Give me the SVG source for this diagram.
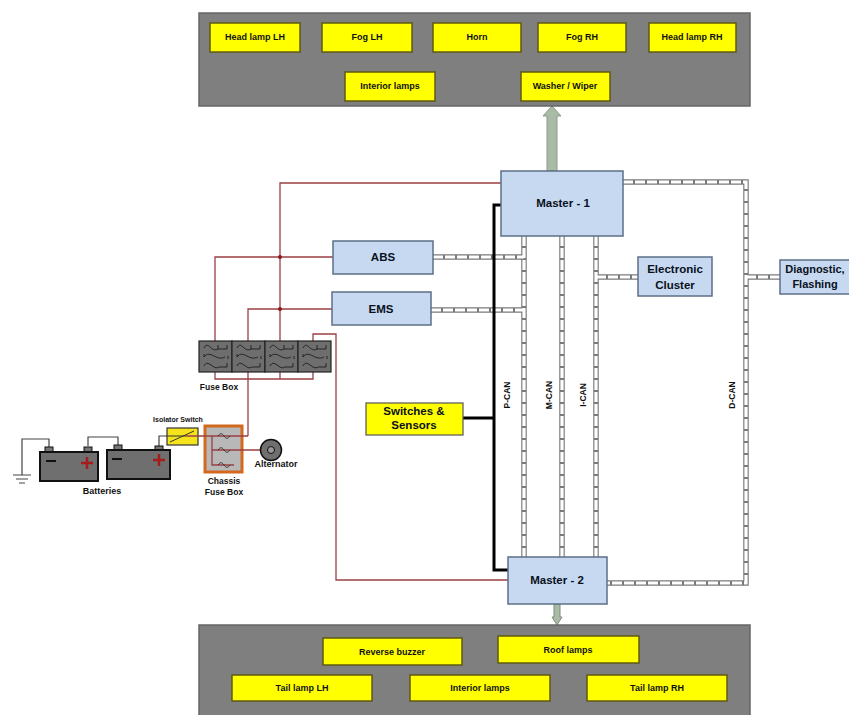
<svg xmlns="http://www.w3.org/2000/svg" width="849" height="715" viewBox="0 0 849 715">
<style>
text{font-family:"Liberation Sans",Arial,sans-serif;font-weight:bold;fill:#111;text-anchor:middle}
.panel{fill:#7f7f7f;stroke:#666;stroke-width:1.5}
.y{fill:#ffff00;stroke:#5f5a10;stroke-width:1.5}
.yt{font-size:9px}
.b{fill:#c6d9f1;stroke:#5d6f86;stroke-width:1.5}
.bt{font-size:11.5px;fill:#0a1020}
.lbl{font-size:8.5px}
.red{fill:none;stroke:#9a3f44;stroke-width:1.3}
.blk{fill:none;stroke:#000;stroke-width:3}
.w{fill:none;stroke:#444;stroke-width:1.2}
.t1{fill:none;stroke:#7a7a7a;stroke-width:5.5}
.t2{fill:none;stroke:#fff;stroke-width:3.2;stroke-dasharray:10 2}
.cell{fill:#6e6e6e;stroke:#222;stroke-width:1.2}
.fg{fill:none;stroke:#111;stroke-width:.8}
.bat{fill:#6f6f6f;stroke:#111;stroke-width:2}
.term{fill:#777;stroke:#111;stroke-width:1}
</style>
<defs>
<g id="fuse">
<path class="fg" d="M3 6 C5 2 7 3 9 5 S14 9 17 7 M17 3v4h9v-4"/>
<path class="fg" d="M3 15 C6 11 9 12 13 14 S20 17 24 15 M3 12v3M27 14v3"/>
<path class="fg" d="M3 24 C5 20 7 21 10 23 S15 27 18 25 M18 25h8v-4"/>
</g>
</defs>

<g id="connectors">
<g id="power-wires">
<path class="red" d="M501 183H280V341"/>
<path class="red" d="M333 257H215V341"/>
<path class="red" d="M332 309H248V436"/>
<path class="red" d="M215 372V379H313V372"/>
<path class="red" d="M313 341V334H336V580H508"/>
<path class="red" d="M280 372V379"/>
<circle cx="280" cy="257" r="2" fill="#8b1a1a"/>
<circle cx="280" cy="309" r="2" fill="#8b1a1a"/>
</g>
<g id="can-bus">
<path class="t1" d="M524 236V557M562 236V557M596 236V557M623 182H746V583H607M433 257H524M431 310H524M596 277H638M746 277H780"/>
<path class="t2" d="M524 236V557M562 236V557M596 236V557M623 182H746V583H607M433 257H524M431 310H524M596 277H638M746 277H780"/>
</g>
<path class="blk" d="M501 205H494V570H508M463 418H494"/>
<g id="outputs">
<path d="M547 171V116H543L552 106L561 116H557V171Z" fill="#a9bba6" stroke="#8b9a88"/>
<path d="M554 604V617H552L557 625L562 617H560V604Z" fill="#a9bba6" stroke="#7f8c7c"/>
</g>
<g id="battery-wires">
<path class="w" d="M49 447V439H22V475"/>
<path class="w" d="M88 446V437H118V445"/>
<path class="w" d="M159 446V436H167"/>
</g>
</g>

<g id="front-panel">
<rect class="panel" x="199" y="13" width="551" height="93"/>
<g id="head-lamp-lh"><rect class="y" x="210" y="23" width="90" height="29"/><text class="yt" x="255" y="40">Head lamp LH</text></g>
<g id="fog-lh"><rect class="y" x="322" y="23" width="90" height="29"/><text class="yt" x="367" y="40">Fog LH</text></g>
<g id="horn"><rect class="y" x="433" y="23" width="88" height="29"/><text class="yt" x="477" y="40">Horn</text></g>
<g id="fog-rh"><rect class="y" x="538" y="23" width="88" height="29"/><text class="yt" x="582" y="40">Fog RH</text></g>
<g id="head-lamp-rh"><rect class="y" x="649" y="23" width="87" height="29"/><text class="yt" x="692" y="40">Head lamp RH</text></g>
<g id="interior-lamps-front"><rect class="y" x="345" y="72" width="90" height="29"/><text class="yt" x="390" y="89">Interior lamps</text></g>
<g id="washer-wiper"><rect class="y" x="521" y="72" width="89" height="29"/><text class="yt" x="565" y="89">Washer / Wiper</text></g>
</g>

<g id="rear-panel">
<rect class="panel" x="199" y="625" width="551" height="92"/>
<g id="reverse-buzzer"><rect class="y" x="323" y="638" width="139" height="27"/><text class="yt" x="392" y="655">Reverse buzzer</text></g>
<g id="roof-lamps"><rect class="y" x="498" y="636" width="141" height="27"/><text class="yt" x="568" y="653">Roof lamps</text></g>
<g id="tail-lamp-lh"><rect class="y" x="232" y="675" width="140" height="26"/><text class="yt" x="302" y="691">Tail lamp LH</text></g>
<g id="interior-lamps-rear"><rect class="y" x="410" y="675" width="140" height="26"/><text class="yt" x="480" y="691">Interior lamps</text></g>
<g id="tail-lamp-rh"><rect class="y" x="587" y="675" width="140" height="26"/><text class="yt" x="657" y="691">Tail lamp RH</text></g>
</g>

<g id="master-1"><rect class="b" x="501" y="171" width="122" height="65"/><text class="bt" x="563" y="207">Master - 1</text></g>
<g id="master-2"><rect class="b" x="508" y="557" width="99" height="47"/><text class="bt" x="557" y="584">Master - 2</text></g>
<g id="abs"><rect class="b" x="333" y="241" width="100" height="33"/><text class="bt" x="383" y="261">ABS</text></g>
<g id="ems"><rect class="b" x="332" y="292" width="99" height="33"/><text class="bt" x="381" y="313">EMS</text></g>
<g id="electronic-cluster"><rect class="b" x="638" y="257" width="74" height="39"/><text class="bt" x="675" y="273">Electronic</text><text class="bt" x="675" y="289">Cluster</text></g>
<g id="diagnostic"><rect class="b" x="780" y="260" width="75" height="34"/><text class="bt" x="815" y="273" style="font-size:11px">Diagnostic,</text><text class="bt" x="815" y="288" style="font-size:11px">Flashing</text></g>
<g id="switches-sensors"><rect x="366" y="403" width="97" height="32" fill="#ffff00" stroke="#555" stroke-width="1.2"/><text class="bt" x="414" y="415">Switches &amp;</text><text class="bt" x="414" y="429">Sensors</text></g>

<g id="fuse-box">
<rect class="cell" x="199" y="341" width="33" height="31"/><rect class="cell" x="232" y="341" width="33" height="31"/><rect class="cell" x="265" y="341" width="33" height="31"/><rect class="cell" x="298" y="341" width="33" height="31"/>
<use href="#fuse" x="201" y="342"/><use href="#fuse" x="234" y="342"/><use href="#fuse" x="267" y="342"/><use href="#fuse" x="300" y="342"/>
<text class="lbl" x="219" y="390">Fuse Box</text>
</g>

<g id="batteries">
<rect class="term" x="45" y="447" width="8" height="5"/><rect class="term" x="84" y="447" width="8" height="5"/><rect class="term" x="114" y="445" width="8" height="5"/><rect class="term" x="155" y="446" width="8" height="5"/>
<rect class="bat" x="40" y="452" width="58" height="29"/>
<rect class="bat" x="107" y="450" width="63" height="29"/>
<path d="M46 461H56M112 459H122" stroke="#111" stroke-width="2"/>
<path d="M81 463H93M87 457V469M153 460H165M159 454V466" stroke="#a51c1c" stroke-width="2.5"/>
<text class="lbl" x="102" y="494" style="font-size:9px">Batteries</text>
</g>

<g id="ground"><path d="M13 475H31M16 479H28M19 483H25" stroke="#444" stroke-width="1"/></g>

<g id="isolator-switch">
<rect x="167" y="428" width="31" height="17" fill="#f5e41c" stroke="#333" stroke-width="1.2"/>
<path d="M170 442L194 431M167 436H186" stroke="#333" stroke-width="1" fill="none"/>
<text x="178" y="422" style="font-size:7px">Isolator Switch</text>
</g>

<g id="chassis-fuse-box">
<rect x="205" y="426" width="37" height="46" fill="#b8b8b8" stroke="#d2691e" stroke-width="3"/>
<path d="M186 436H248M212 436V465H234M212 450H261" fill="none" stroke="#9a3f44" stroke-width="1.3"/>
<path d="M218 436c2-3 4-3 6 0s4 3 6 0M218 450c2-3 4-3 6 0s4 3 6 0M218 465c2-3 4-3 6 0s4 3 6 0" fill="none" stroke="#333" stroke-width="1"/>
<text class="lbl" x="224" y="484">Chassis</text><text class="lbl" x="224" y="495">Fuse Box</text>
</g>

<g id="alternator">
<circle cx="271" cy="450" r="10.5" fill="#6f6f6f" stroke="#111" stroke-width="1.5"/>
<circle cx="271" cy="450" r="3.5" fill="#999" stroke="#111" stroke-width="1"/>
<text class="lbl" x="276" y="467" style="font-size:9px">Alternator</text>
</g>

<g id="bus-labels">
<text class="lbl" transform="translate(510 395) rotate(-90)">P-CAN</text>
<text class="lbl" transform="translate(552 395) rotate(-90)">M-CAN</text>
<text class="lbl" transform="translate(586 395) rotate(-90)">I-CAN</text>
<text class="lbl" transform="translate(735 395) rotate(-90)">D-CAN</text>
</g>
</svg>
